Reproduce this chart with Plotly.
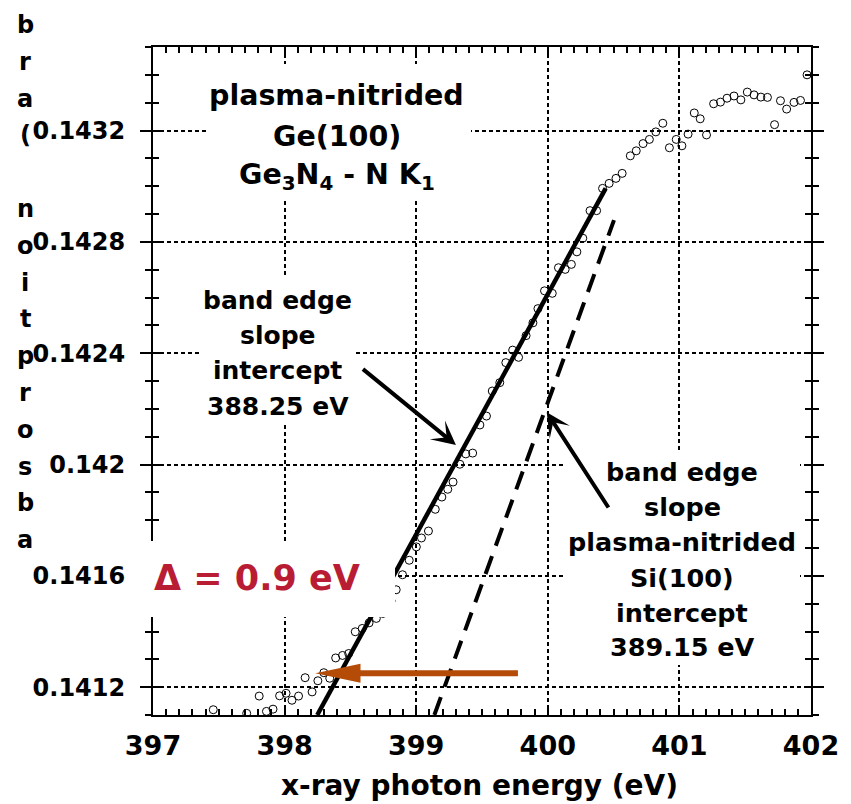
import plotly.graph_objects as go

# ---------------- data ----------------
energy = [397.458, 397.712, 397.807, 397.862, 397.912, 397.962, 398.011, 398.056, 398.106, 398.156,
          398.209, 398.253, 398.298, 398.343, 398.388, 398.440, 398.487, 398.537, 398.590, 398.642,
          398.697, 398.747, 398.809, 398.848, 398.896, 398.947, 399.001, 399.040, 399.093, 399.145,
          399.195, 399.240, 399.280, 399.332, 399.377, 399.429, 399.484, 399.534, 399.578, 399.635,
          399.681, 399.733, 399.778, 399.835, 399.887, 399.925, 399.975, 400.034, 400.081, 400.132,
          400.179, 400.221, 400.266, 400.321, 400.371, 400.416, 400.466, 400.518, 400.565, 400.627,
          400.672, 400.724, 400.772, 400.821, 400.874, 400.924, 400.976, 401.019, 401.066, 401.113,
          401.158, 401.206, 401.260, 401.312, 401.362, 401.415, 401.467, 401.516, 401.567, 401.619,
          401.669, 401.723, 401.768, 401.815, 401.871, 401.920, 401.970]
absorption = [0.141119, 0.141106, 0.141168, 0.141113, 0.141121, 0.141169, 0.141178, 0.141153, 0.141168, 0.141234,
              0.141183, 0.141223, 0.141252, 0.141232, 0.141305, 0.141314, 0.141321, 0.141399, 0.141411, 0.141431,
              0.141447, 0.141465, 0.141510, 0.141550, 0.141604, 0.141656, 0.141704, 0.141736, 0.141761, 0.141839,
              0.141883, 0.141911, 0.141937, 0.142001, 0.142038, 0.142041, 0.142142, 0.142174, 0.142264, 0.142294,
              0.142366, 0.142411, 0.142385, 0.142463, 0.142509, 0.142560, 0.142624, 0.142615, 0.142707, 0.142701,
              0.142719, 0.142764, 0.142813, 0.142912, 0.142912, 0.142992, 0.143010, 0.143028, 0.143046, 0.143109,
              0.143127, 0.143153, 0.143168, 0.143195, 0.143226, 0.143138, 0.143168, 0.143145, 0.143187, 0.143263,
              0.143242, 0.143184, 0.143296, 0.143302, 0.143316, 0.143324, 0.143310, 0.143338, 0.143328, 0.143320,
              0.143319, 0.143221, 0.143307, 0.143277, 0.143301, 0.143308, 0.143400]

# band-edge slope lines (Ge3N4 fit, and Si(100) reference slope)
fit_ge_x = [398.248, 400.440]
fit_ge_y = [0.1411, 0.142992]
fit_si_x = [399.138, 400.503]
fit_si_y = [0.1411, 0.142878]

x_range = [397, 402]
y_range = [0.1411, 0.1435]
x_major, x_minor = 1, 0.1
y_tick0, y_major, y_minor = 0.1412, 0.0004, 0.0001

title_lines = ["plasma-nitrided", "Ge(100)", "Ge<sub>3</sub>N<sub>4</sub> - N K<sub>1</sub>"]
left_lines = ["band edge", "slope", "intercept", "388.25 eV"]
right_lines = ["band edge", "slope", "plasma-nitrided", "Si(100)", "intercept", "389.15 eV"]
delta_text = "Δ = 0.9 eV"
xlabel = "x-ray photon energy (eV)"
ylabel_letters = ["b", "r", "a", "(", "", "n", "o", "i", "t", "p", "r", "o", "s", "b", "a"]

FONT = "DejaVu Sans"
RED = "#b91d34"
ORANGE = "#b44c08"

# ---------------- figure ----------------
W, H = 851, 804
ML, MR, MT, MB = 153, 29, 47, 89
PW, PH = W - ML - MR, H - MT - MB

fig = go.Figure()
fig.add_trace(go.Scatter(x=energy, y=absorption, mode="markers",
                         marker=dict(symbol="circle-open", size=8, color="black", line=dict(width=1))))
fig.add_trace(go.Scatter(x=fit_ge_x, y=fit_ge_y, mode="lines", line=dict(color="black", width=4.5)))
fig.add_trace(go.Scatter(x=fit_si_x, y=fit_si_y, mode="lines",
                         line=dict(color="black", width=4, dash="19px,11px")))
fig.add_trace(go.Scatter(x=[], y=[], yaxis="y2", showlegend=False))

grid = dict(showgrid=True, gridcolor="black", griddash="4px,3px")
fig.update_layout(
    width=W, height=H, margin=dict(l=ML, r=MR, t=MT, b=MB),
    paper_bgcolor="white", plot_bgcolor="white", showlegend=False,
    xaxis=dict(range=x_range, tick0=x_range[0], dtick=x_major, ticks="inside", ticklen=10, tickwidth=2,
               tickcolor="black", showline=True, linecolor="black", linewidth=2, mirror="ticks",
               gridwidth=2, zeroline=False, ticklabelstandoff=6,
               tickfont=dict(family=FONT, size=27, color="black", weight="bold"),
               minor=dict(dtick=x_minor, ticks="inside", ticklen=6, tickwidth=2, tickcolor="black", showgrid=False),
               **grid),
    yaxis=dict(range=y_range, tick0=y_tick0, dtick=y_major, ticks="outside", ticklen=11, tickwidth=2,
               tickcolor="black", showline=True, linecolor="black", linewidth=2, mirror="ticks",
               gridwidth=1.5, zeroline=False, ticklabelstandoff=10,
               tickfont=dict(family=FONT, size=24, color="black", weight="bold"),
               minor=dict(dtick=y_minor, ticks="outside", ticklen=6, tickwidth=2, tickcolor="black", showgrid=False),
               **grid),
    yaxis2=dict(range=y_range, overlaying="y", side="left", tick0=y_tick0, dtick=y_major, ticks="inside",
                ticklen=7, tickwidth=2, tickcolor="black", showticklabels=False, showgrid=False,
                showline=True, linecolor="black", linewidth=2, mirror="ticks", zeroline=False,
                minor=dict(dtick=y_minor, ticks="inside", ticklen=6, tickwidth=2, tickcolor="black")),
)

ann = []

def box(x, y, w, h):
    ann.append(dict(x=x, y=y, xref="x", yref="y", text="&nbsp;", showarrow=False, width=w, height=h,
                    bgcolor="white", borderpad=0, borderwidth=0, font=dict(size=8)))

def txt(x, y, text, size, color="black", xref="x", yref="y"):
    ann.append(dict(x=x, y=y, xref=xref, yref=yref, text=text, showarrow=False, xanchor="center",
                    yanchor="middle", font=dict(family=FONT, size=size, color=color, weight="bold")))

# white boxes behind text blocks
box(398.413, 0.143195, 264, 135)
box(397.949, 0.142411, 152, 150)
box(401.025, 0.141666, 234, 215)
box(397.863, 0.141588, 257, 76)

for t, yy in zip(title_lines, [0.143324, 0.143180, 0.143033]):
    txt(398.398, yy, t, 28.5)
for t, yy in zip(left_lines, [0.142591, 0.142462, 0.142336, 0.142210]):
    txt(397.949, yy, t, 25)
for t, yy in zip(right_lines, [0.141973, 0.141847, 0.141721, 0.141592, 0.141466, 0.141344]):
    txt(401.021, yy, t, 25.5)
txt(397.790, 0.141592, delta_text, 35, color=RED)

# arrows
ann.append(dict(x=399.302, y=0.142070, ax=398.584, ay=0.142347, xref="x", yref="y", axref="x", ayref="y",
                text="", showarrow=True, arrowhead=3, arrowwidth=4, arrowsize=1, arrowcolor="black"))
ann.append(dict(x=399.992, y=0.142188, ax=400.468, ay=0.141840, xref="x", yref="y", axref="x", ayref="y",
                text="", showarrow=True, arrowhead=3, arrowwidth=4, arrowsize=1, arrowcolor="black"))

# axis titles
txt((484.5 - ML) / PW, (MT + PH - 785) / PH, xlabel, 28, xref="paper", yref="paper")
for i, ch in enumerate(ylabel_letters):
    if ch:
        py = 25 + i * 36.8
        txt((23 - ML) / PW, (MT + PH - py) / PH, ch, 24, xref="paper", yref="paper")

fig.update_layout(annotations=ann)

# orange arrow (shaft + head) pointing at the Ge3N4 intercept
tip_x, tail_x, arr_y = 398.233, 399.773, 0.14125
head_len = 46 * (x_range[1] - x_range[0]) / PW
head_hw = 9.5 * (y_range[1] - y_range[0]) / PH
base_x = tip_x + head_len
fig.add_shape(type="line", x0=base_x - 0.02, y0=arr_y, x1=tail_x, y1=arr_y, xref="x", yref="y",
              line=dict(color=ORANGE, width=6), layer="above")
fig.add_shape(type="path", xref="x", yref="y", layer="above", fillcolor=ORANGE, line=dict(width=0),
              path=f"M {tip_x},{arr_y} L {base_x},{arr_y + head_hw} L {base_x},{arr_y - head_hw} Z")

fig.write_html("out.html")
